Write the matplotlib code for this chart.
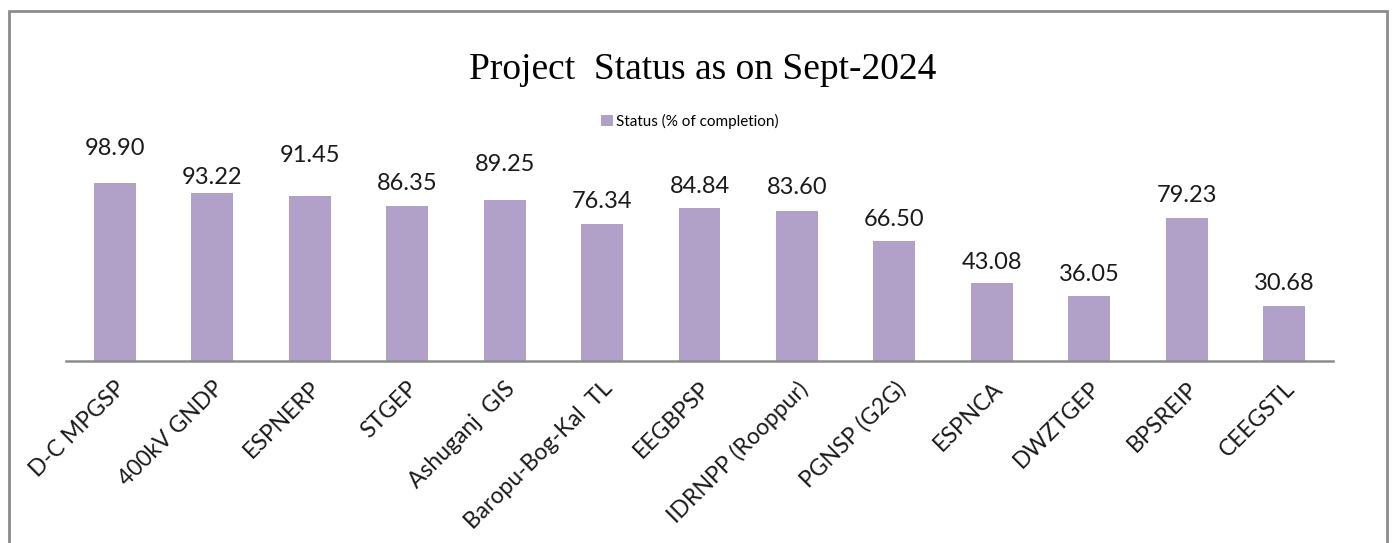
import matplotlib
matplotlib.use("Agg")
import matplotlib.pyplot as plt
from matplotlib.patches import Rectangle
import numpy as np

# data
PROJECTS = [
    "D-C MPGSP", "400kV GNDP", "ESPNERP", "STGEP", "Ashuganj  GIS",
    "Baropu-Bog-Kal  TL", "EEGBPSP", "IDRNPP (Rooppur)", "PGNSP (G2G)",
    "ESPNCA", "DWZTGEP", "BPSREIP", "CEEGSTL",
]
STATUS = [98.90, 93.22, 91.45, 86.35, 89.25, 76.34, 84.84,
          83.60, 66.50, 43.08, 36.05, 79.23, 30.68]
SERIES_NAME = "Status (% of completion)"
TITLE = "Project  Status as on Sept-2024"

# how far each value label sits above its bar (pixels, labels were hand-placed)
LABEL_LIFT_PX = [34, 16, 41, 22, 36, 22, 22, 23, 22, 21, 22, 23, 22]

BAR_COLOR = "#B1A0C7"
SANS = ["Lato", "DejaVu Sans"]
W, H, DPI = 1392, 543, 100


def main():
    fig = plt.figure(figsize=(W / DPI, H / DPI), dpi=DPI)

    # chart frame
    fig.add_artist(Rectangle((9 / W, -0.1), (1387 - 9) / W, 1.1 - 11 / H,
                             transform=fig.transFigure, fill=False,
                             edgecolor="#8c8c8c", linewidth=2))

    ax = fig.add_axes([66 / W, 1 - 361 / H, (1333 - 66) / W, 180 / H])
    x = np.arange(len(PROJECTS))
    bars = ax.bar(x, STATUS, width=0.43, color=BAR_COLOR, label=SERIES_NAME)

    ax.set_xlim(-0.5, len(PROJECTS) - 0.5)
    ax.set_ylim(0, 100)
    for s in ["top", "right", "left"]:
        ax.spines[s].set_visible(False)
    ax.spines["bottom"].set_color("#8c8c8c")
    ax.spines["bottom"].set_linewidth(1.8)
    ax.set_yticks([])
    ax.set_xticks(x)
    ax.set_xticklabels(PROJECTS, rotation=45, ha="right", va="top",
                       rotation_mode="anchor", fontsize=16.5, family=SANS,
                       color="#1a1a1a")
    ax.tick_params(axis="x", length=0, pad=12)

    for b, v, lift in zip(bars, STATUS, LABEL_LIFT_PX):
        ax.annotate(f"{v:.2f}", (b.get_x() + b.get_width() / 2, v),
                    xytext=(0, lift * 72 / DPI), textcoords="offset points",
                    ha="center", va="center", fontsize=17, family=SANS,
                    color="#1a1a1a", annotation_clip=False)

    fig.text(703 / W, 1 - 70 / H, TITLE, ha="center", va="center",
             fontsize=27, family=["Liberation Serif", "DejaVu Serif"])

    fig.legend(loc="center", bbox_to_anchor=(690 / W, 1 - 121 / H),
               frameon=False, prop={"family": SANS, "size": 11},
               handlelength=0.75, handleheight=0.75, handletextpad=0.2)

    fig.savefig("out.png", dpi=DPI)


if __name__ == "__main__":
    main()
